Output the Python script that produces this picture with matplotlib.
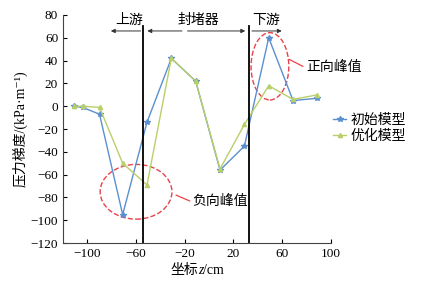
import matplotlib
matplotlib.use("Agg")
import matplotlib.pyplot as plt
from matplotlib.patches import Ellipse
from matplotlib.offsetbox import TextArea, HPacker, AnchoredOffsetbox

plt.rcParams['font.family'] = ['Liberation Serif', 'Noto Sans CJK SC', 'DejaVu Serif']
plt.rcParams['font.size'] = 9.5

# 数据
z = [-111, -104, -90, -71, -51, -31, -11, 9, 29, 49, 69, 89]
init_model = [0, -1, -7, -95, -14, 42, 22, -56, -35, 60, 5, 7]
opt_model = [0, 0, -1, -50, -69, 42, 22, -55, -16, 18, 6, 10]

x_ticks = [-100, -60, -20, 20, 60, 100]
y_ticks = [80, 60, 40, 20, 0, -20, -40, -60, -80, -100, -120]

bounds = [-54, 33]          # 封堵器两端
zones = ['上游', '封堵器', '下游']
zone_x = [-66, -9, 47]

fig = plt.figure(figsize=(4.23, 2.83), dpi=100)
ax = fig.add_axes([0.149, 0.141, 0.633, 0.806])

blue = '#5b8fd0'
green = '#b9cf6a'
ax.plot(z, init_model, color=blue, lw=1.0, marker='*', ms=4, label='初始模型')
ax.plot(z, opt_model, color=green, lw=1.0, marker='^', ms=3, label='优化模型')

# 分区竖线
for b in bounds:
    ax.plot([b, b], [-120, 70], color='black', lw=1.3)

# 分区箭头
ay = 66
ap = dict(arrowstyle='-|>', color='#333333', lw=0.7, mutation_scale=6)
ax.annotate('', xy=(-83, ay), xytext=(bounds[0], ay), arrowprops=ap)
ax.annotate('', xy=(bounds[0] + 1, ay), xytext=(-20, ay), arrowprops=ap)
ax.annotate('', xy=(bounds[1] - 1, ay), xytext=(-20, ay), arrowprops=ap)
ax.annotate('', xy=(62, ay), xytext=(bounds[1], ay), arrowprops=ap)
for name, xx in zip(zones, zone_x):
    ax.text(xx, 75, name, ha='center', va='center', fontsize=10)

# 峰值标注
red = '#e8434a'
ax.add_patch(Ellipse((-60, -75), 59, 48, fill=False, ls='--', color=red, lw=1))
ax.add_patch(Ellipse((50, 35), 31, 59, fill=False, ls='--', color=red, lw=1))
ax.plot([-27, -16], [-78, -83], color=red, lw=0.9)
ax.plot([66, 77], [41, 35], color=red, lw=0.9)
ax.text(-14, -83.5, '负向峰值', va='center', fontsize=10)
ax.text(80, 34, '正向峰值', va='center', fontsize=10, clip_on=False)

ax.set_xlim(-120, 100)
ax.set_ylim(-120, 80)
ax.set_xticks(x_ticks)
ax.set_yticks(y_ticks)
ax.tick_params(direction='in', length=3, width=0.8)
for s in ['top', 'right']:
    ax.spines[s].set_visible(False)
for s in ['left', 'bottom']:
    ax.spines[s].set_color('#444444')

# x 轴标题：z 用斜体
xl = HPacker(children=[TextArea('坐标', textprops=dict(fontsize=10)),
                       TextArea('z', textprops=dict(fontsize=10, style='italic',
                                                    family='Liberation Serif')),
                       TextArea('/cm', textprops=dict(fontsize=10))],
             align='baseline', pad=0, sep=0)
ab = AnchoredOffsetbox(loc='upper center', child=xl, frameon=False, pad=0,
                       bbox_to_anchor=(0.5, -0.09), bbox_transform=ax.transAxes,
                       borderpad=0)
ax.add_artist(ab)
ax.set_ylabel('压力梯度/(kPa·m⁻¹)', labelpad=2, fontsize=10)

ax.legend(loc='upper left', bbox_to_anchor=(0.96, 0.62), frameon=False,
          handlelength=1.0, handletextpad=0.3, labelspacing=0.15, fontsize=10)

fig.savefig('out.png', dpi=100)
